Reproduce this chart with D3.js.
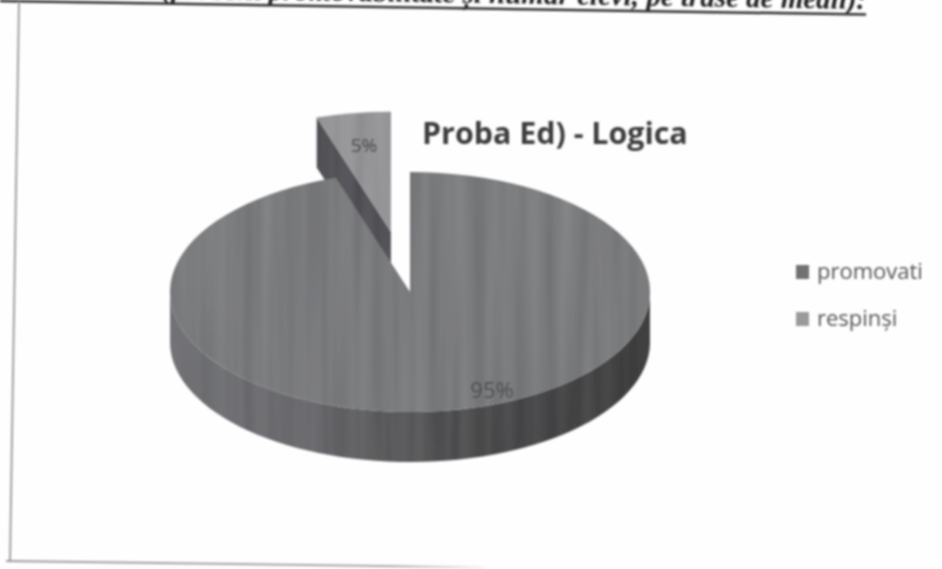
<!DOCTYPE html>
<html><head><meta charset="utf-8">
<script src="https://cdn.jsdelivr.net/npm/d3@7"></script>
<style>html,body{margin:0;padding:0;background:#fefefe}svg{display:block}</style>
</head><body><svg id="c" width="942" height="569"></svg>
<script>
const categories = ["promovati", "respinși"];
const values = [95, 5];
const labels = ["95%", "5%"];
const chartTitle = "Proba Ed) - Logica";
const heading = "(procent promovabilitate și număr elevi, pe trase de medii):";
const topColors = ["#7c7d7f", "#9c9ca0"];
const wallColors = ["#5e5e5e", "#505056"];

const svg = d3.select("#c");
const defs = svg.append("defs");
defs.append("filter").attr("id","scan").append("feGaussianBlur").attr("stdDeviation",0.8);
// faint vertical scan banding on the pie
const tex = defs.append("filter").attr("id","tex").attr("x","-5%").attr("y","-5%").attr("width","110%").attr("height","110%")
  .attr("color-interpolation-filters","sRGB");
tex.append("feTurbulence").attr("type","fractalNoise").attr("baseFrequency","0.07 0.003").attr("numOctaves",2).attr("seed",4).attr("result","n");
tex.append("feColorMatrix").attr("in","n").attr("type","matrix")
  .attr("values","0.9 0 0 0 0  0.9 0 0 0 0  0.9 0 0 0 0  0 0 0 0 0.12").attr("result","c");
tex.append("feComposite").attr("in","c").attr("in2","SourceGraphic").attr("operator","in").attr("result","m");
const tm = tex.append("feMerge");
tm.append("feMergeNode").attr("in","SourceGraphic");
tm.append("feMergeNode").attr("in","m");
const wallGrad = defs.append("linearGradient").attr("id","wall").attr("x1",0).attr("x2",1).attr("y1",0).attr("y2",0);
[[0,"#747579"],[0.3,"#68686c"],[0.55,"#4e4e50"],[0.85,"#414142"],[1,"#383838"]]
  .forEach(([o,c])=>wallGrad.append("stop").attr("offset",o).attr("stop-color",c));
const fade = defs.append("linearGradient").attr("id","fade").attr("gradientUnits","userSpaceOnUse")
  .attr("x1",10).attr("x2",485).attr("y1",0).attr("y2",0);
[[0,"#9a9a9a"],[0.8,"#a8a8a8"],[1,"#f4f4f4"]].forEach(([o,c])=>fade.append("stop").attr("offset",o).attr("stop-color",c));

const root = svg.append("g").attr("filter","url(#scan)");

// page leftovers: clipped heading + chart frame
root.append("text").attr("text-anchor","end").attr("transform","translate(866,9) rotate(0.9)")
  .attr("font-family","Liberation Serif").attr("font-style","italic").attr("font-weight","bold")
  .attr("font-size",29).attr("fill","#222").text(heading);
root.append("line").attr("x1",0).attr("y1",1).attr("x2",866).attr("y2",14.5).attr("stroke","#2e2e2e").attr("stroke-width",2.5);
root.append("line").attr("x1",19).attr("y1",2).attr("x2",10).attr("y2",561).attr("stroke","#a0a0a0").attr("stroke-width",2);
root.append("line").attr("x1",6).attr("y1",561).attr("x2",485).attr("y2",567.5).attr("stroke","url(#fade)").attr("stroke-width",2);

// pie
const cx = 410, cy = 292, R = 240, squash = 0.5, depth = 50, explode = 122;
const pie = d3.pie().sort(null).startAngle(0).endAngle(2*Math.PI)(values);
const arc = d3.arc().innerRadius(0).outerRadius(R);
const project = (a,r,dx=0,dy=0,dz=0)=>[cx+dx+r*Math.sin(a), cy+(dy-r*Math.cos(a))*squash+dz];
const pieLayer = root.append("g").attr("filter","url(#tex)");

function drawSlice(d,i,off){
  const mid=(d.startAngle+d.endAngle)/2;
  const dx=off*Math.sin(mid), dy=-off*Math.cos(mid);
  const g=pieLayer.append("g");
  const front=d3.range(0,121).map(k=>d.startAngle+(d.endAngle-d.startAngle)*k/120)
     .filter(a=>Math.cos(a)<=0.02);
  if(front.length>1){
    const top=front.map(a=>project(a,R,dx,dy));
    const bot=front.map(a=>project(a,R,dx,dy,depth)).reverse();
    g.append("path").attr("d",d3.line()(top.concat(bot))+"Z").attr("fill","url(#wall)");
  }
  if(off>0){
    const apex=project(0,0,dx,dy), apexB=project(0,0,dx,dy,depth);
    const p=project(d.startAngle,R,dx,dy), pB=project(d.startAngle,R,dx,dy,depth);
    g.append("path").attr("d",d3.line()([apex,apexB,pB,p])+"Z").attr("fill",wallColors[i]);
  }
  g.append("path").attr("d",arc(d))
   .attr("transform",`translate(${cx+dx},${cy+dy*squash}) scale(1,${squash})`)
   .attr("fill",topColors[i]);
}
drawSlice(pie[1],1,explode);
drawSlice(pie[0],0,0);

// data labels
root.append("text").attr("x",492).attr("y",398).attr("text-anchor","middle")
  .attr("font-family","Open Sans").attr("font-size",22).attr("fill","#4c4c4c").text(labels[0]);
root.append("text").attr("x",364).attr("y",152).attr("text-anchor","middle")
  .attr("font-family","Open Sans").attr("font-size",19).attr("fill","#3a3a3a").text(labels[1]);

// title
root.append("text").attr("x",422).attr("y",144)
  .attr("font-family","Open Sans").attr("font-weight","bold").attr("font-size",30.4).attr("fill","#3c3c3c").text(chartTitle);

// legend
const legendY=d3.scalePoint().domain(categories).range([272,319]);
const legendColors=["#6f6f6f","#9a9a9a"];
const lg=root.selectAll("g.l").data(categories).join("g").attr("class","l")
  .attr("transform",d=>`translate(796,${legendY(d)})`);
lg.append("rect").attr("x",0).attr("y",-7).attr("width",13).attr("height",14).attr("fill",(d,i)=>legendColors[i]);
lg.append("text").attr("x",21).attr("y",7).attr("font-family","Open Sans").attr("font-size",22).attr("fill","#555").text(d=>d);
</script></body></html>
